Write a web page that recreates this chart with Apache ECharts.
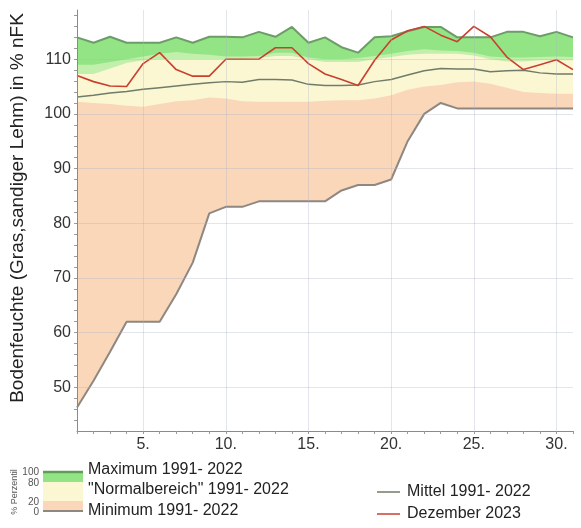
<!DOCTYPE html>
<html>
<head>
<meta charset="utf-8">
<script src="https://cdn.jsdelivr.net/npm/echarts@6/dist/echarts.min.js"></script>
<style>
html,body{margin:0;padding:0;background:#fff;}
#chart{width:581px;height:528px;}
</style>
</head>
<body>
<div id="chart"></div>
<script>
// ---- data ----
const days = [1,2,3,4,5,6,7,8,9,10,11,12,13,14,15,16,17,18,19,20,21,22,23,24,25,26,27,28,29,30,31];
const maxVals  = [114,113,114.1,113,113,113,114,113,114.1,114.1,114,115,114.1,115.9,113,114,112.2,111.2,114,114.2,115.1,115.9,115.9,114,114,114,115,115,114.2,115,114];
const p90Vals  = [109,109,109.5,110,110.5,111,111.3,111,110.8,110.5,110.5,110.6,111.2,111.2,110.3,110,110,110.2,110.6,111,111.5,111.8,111.6,111.5,111.2,110.5,110.3,110.3,110.4,110.5,110.4];
const p80Vals  = [107.3,107.3,108.3,109.3,109.8,110,110,110,110,110,110,110.2,110.6,110.6,110,109.5,109.5,109.5,110,110.4,110.8,111,111,111,110.7,110,109.6,109.6,109.8,109.8,109.8];
const p20Vals  = [102.2,102,101.8,101.5,101.3,101.8,102.3,102.5,103,102.8,102.3,102.2,102.2,102.2,102.2,102.4,102.5,102.5,102.8,103.4,104.4,105,105.3,105.8,105.9,105.5,104.8,104,103.8,103.7,103.7];
const minVals  = [46.3,51.2,56.5,62,62,62,67,72.8,81.8,83,83,84,84,84,84,84,86,87,87,88,95,100,102,101,101,101,101,101,101,101,101];
const meanVals = [103.1,103.4,103.8,104.1,104.5,104.8,105.1,105.4,105.7,105.9,105.8,106.3,106.3,106.2,105.4,105.2,105.2,105.3,105.9,106.3,107.1,107.9,108.3,108.2,108.2,107.7,107.9,108,107.5,107.3,107.3];
const decVals  = [107,105.9,105.1,105,109.2,111.2,108.1,106.9,106.9,110,110,110,112.1,112.1,109.2,107.3,106.3,105.2,109.8,113.5,115.2,116,114.4,113.2,116,114.1,110.4,108.1,109,109.9,108.1];
const xLabelValues = [5,10,15,20,25,30];
const yLabelValues = [50,60,70,80,90,100,110];
const xTickValues = days;
const yTickValues = [44,46,48,50,52,54,56,58,60,62,64,66,68,70,72,74,76,78,80,82,84,86,88,90,92,94,96,98,100,102,104,106,108,110,112,114,116,118];

const pairs = arr => days.map((d, i) => [d, arr[i]]);

const chart = echarts.init(document.getElementById('chart'), null, {renderer: 'canvas'});
const FONT = 'Liberation Sans, Arial, sans-serif';

function areaSeries(name, arr, color) {
  return {
    name, type: 'line', data: pairs(arr), symbol: 'none', z: 2,
    lineStyle: {width: 0, opacity: 0},
    areaStyle: {color, opacity: 1, origin: 'start'},
    silent: true, animation: false
  };
}

const option = {
  animation: false,
  grid: {left: 77, right: 8, top: 10, bottom: 97, containLabel: false},
  xAxis: {
    type: 'value', min: 1, max: 31, z: 5,
    axisLine: {show: true, lineStyle: {color: '#8a8a8a', width: 1}},
    axisTick: {show: true, customValues: xTickValues, length: 3, lineStyle: {color: '#9a9a9a'}},
    axisLabel: {customValues: xLabelValues, formatter: v => v + '.', fontSize: 16, color: '#333', margin: 6, fontFamily: FONT},
    splitLine: {show: false}
  },
  yAxis: {
    type: 'value', min: 42, max: 119, z: 5,
    axisLine: {show: true, lineStyle: {color: '#8a8a8a', width: 1}},
    axisTick: {show: true, customValues: yTickValues, length: 3, lineStyle: {color: '#9a9a9a'}},
    axisLabel: {customValues: yLabelValues, fontSize: 16, color: '#333', margin: 6, fontFamily: FONT},
    splitLine: {show: false}
  },
  series: [
    areaSeries('Maximum', maxVals, '#93e485'),
    areaSeries('P90', p90Vals, '#c3efac'),
    areaSeries('Normal', p80Vals, '#fcf7d3'),
    areaSeries('P20', p20Vals, '#f9d7b8'),
    areaSeries('MinFill', minVals, '#ffffff'),
    {
      name: 'grid', type: 'line', data: [], z: 3, silent: true,
      markLine: {
        silent: true, symbol: ['none', 'none'], label: {show: false}, animation: false,
        lineStyle: {color: 'rgba(175,180,200,0.35)', type: 'solid', width: 1},
        data: yLabelValues.map(v => ({yAxis: v})).concat(xLabelValues.map(v => ({xAxis: v})))
      }
    },
    {name: 'minLine', type: 'line', data: pairs(minVals), symbol: 'none', z: 4,
     lineStyle: {color: '#8f8781', width: 2}},
    {name: 'maxLine', type: 'line', data: pairs(maxVals), symbol: 'none', z: 4,
     lineStyle: {color: '#6e9c68', width: 2}},
    {name: 'Mittel 1991- 2022', type: 'line', data: pairs(meanVals), symbol: 'none', z: 4,
     lineStyle: {color: '#6f7c69', width: 1.5}},
    {name: 'Dezember 2023', type: 'line', data: pairs(decVals), symbol: 'none', z: 4,
     lineStyle: {color: '#c8402e', width: 1.6}}
  ],
  graphic: [
    {type: 'text', x: 18, y: 208, rotation: Math.PI / 2,
     style: {text: 'Bodenfeuchte (Gras,sandiger Lehm) in % nFK', font: '19px ' + FONT, fill: '#222', align: 'center', verticalAlign: 'middle'}},
    // legend: percentile scale
    {type: 'text', x: 15, y: 492, rotation: Math.PI / 2,
     style: {text: '% Perzentil', font: '9px ' + FONT, fill: '#555', align: 'center', verticalAlign: 'middle'}},
    {type: 'text', x: 39, y: 472, style: {text: '100', font: '10px ' + FONT, fill: '#555', align: 'right', verticalAlign: 'middle'}},
    {type: 'text', x: 39, y: 483, style: {text: '80', font: '10px ' + FONT, fill: '#555', align: 'right', verticalAlign: 'middle'}},
    {type: 'text', x: 39, y: 502, style: {text: '20', font: '10px ' + FONT, fill: '#555', align: 'right', verticalAlign: 'middle'}},
    {type: 'text', x: 39, y: 512, style: {text: '0', font: '10px ' + FONT, fill: '#555', align: 'right', verticalAlign: 'middle'}},
    {type: 'rect', shape: {x: 43, y: 472, width: 40, height: 10}, style: {fill: '#93e485'}},
    {type: 'rect', shape: {x: 43, y: 482, width: 40, height: 19}, style: {fill: '#fcf7d3'}},
    {type: 'rect', shape: {x: 43, y: 501, width: 40, height: 10}, style: {fill: '#f9d7b8'}},
    {type: 'line', shape: {x1: 43, y1: 472, x2: 83, y2: 472}, style: {stroke: '#5f9e5a', lineWidth: 2.5}},
    {type: 'line', shape: {x1: 43, y1: 511, x2: 83, y2: 511}, style: {stroke: '#8f8781', lineWidth: 2}},
    {type: 'text', x: 88, y: 470, style: {text: 'Maximum 1991- 2022', font: '16px ' + FONT, fill: '#222', verticalAlign: 'middle'}},
    {type: 'text', x: 88, y: 490, style: {text: '"Normalbereich" 1991- 2022', font: '16px ' + FONT, fill: '#222', verticalAlign: 'middle'}},
    {type: 'text', x: 88, y: 511, style: {text: 'Minimum 1991- 2022', font: '16px ' + FONT, fill: '#222', verticalAlign: 'middle'}},
    {type: 'line', shape: {x1: 377, y1: 492, x2: 400, y2: 492}, style: {stroke: '#6f7c69', lineWidth: 1.5}},
    {type: 'line', shape: {x1: 377, y1: 514, x2: 400, y2: 514}, style: {stroke: '#c8402e', lineWidth: 1.5}},
    {type: 'text', x: 407, y: 492, style: {text: 'Mittel 1991- 2022', font: '16px ' + FONT, fill: '#222', verticalAlign: 'middle'}},
    {type: 'text', x: 407, y: 514, style: {text: 'Dezember 2023', font: '16px ' + FONT, fill: '#222', verticalAlign: 'middle'}}
  ]
};
chart.setOption(option);
</script>
</body>
</html>
